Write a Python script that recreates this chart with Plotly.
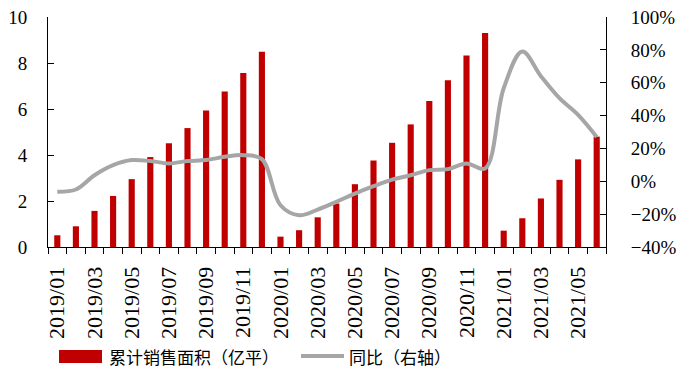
import plotly.graph_objects as go

months = [f"{y}/{m:02d}" for y in (2019, 2020) for m in range(1, 13)] + [f"2021/{m:02d}" for m in range(1, 7)]
sales_area = [0.51, 0.90, 1.57, 2.22, 2.95, 3.91, 4.51, 5.17, 5.94, 6.76, 7.57, 8.49,
              0.45, 0.73, 1.29, 1.89, 2.73, 3.76, 4.53, 5.33, 6.35, 7.25, 8.33, 9.30,
              0.71, 1.25, 2.11, 2.92, 3.81, 4.80]
yoy = [-6.4, -5.0, 3.7, 9.8, 12.9, 12.3, 10.9, 12.3, 12.9, 14.9, 15.9, 13.5,
       -14.6, -20.7, -17.2, -12.5, -7.5, -3.0, 1.0, 3.7, 6.8, 7.4, 10.9, 7.8,
       56.6, 79.0, 64.0, 50.6, 40.4, 27.0]
bar_name = "累计销售面积（亿平）"
line_name = "同比（右轴）"

x = list(range(len(months)))
serif = "Liberation Serif"
cjk = "Noto Sans CJK SC"
red = "#C00000"
gray = "#A6A6A6"

fig = go.Figure()
fig.add_trace(go.Bar(x=x, y=sales_area, name=bar_name, marker_color=red,
                     marker_line_width=0, showlegend=False))
fig.add_trace(go.Scatter(x=x, y=yoy, name=line_name, yaxis="y2", mode="lines",
                         line=dict(color=gray, width=4, shape="spline", smoothing=1.0),
                         showlegend=False))

fig.update_layout(
    template="none",
    width=686, height=370,
    margin=dict(l=40, r=88, t=9, b=131, autoexpand=False),
    paper_bgcolor="white", plot_bgcolor="white",
    bargap=0.67,
    font=dict(family=serif, size=19, color="black"),
    xaxis=dict(range=[-0.5, len(months) - 0.5], tickvals=x[::2], ticktext=months[::2],
               tickangle=-90, ticks="", showline=True, linecolor="black", linewidth=1,
               showgrid=False, zeroline=False, tickfont=dict(family=serif, size=22, color="black"),
               minor=dict(ticks="outside", tick0=0.5, dtick=1, ticklen=6, tickcolor="black", showgrid=False),
               ticklabelstandoff=10, automargin=False, ticklabeloverflow="allow"),
    yaxis=dict(range=[0, 10], dtick=2, ticks="inside", ticklen=6, tickcolor="black",
               showline=True, linecolor="black", linewidth=1, showgrid=False, zeroline=False,
               tickfont=dict(family=serif, size=19, color="black"), ticklabelstandoff=16,
               automargin=False, ticklabeloverflow="allow"),
    yaxis2=dict(range=[-40, 100], dtick=20, ticksuffix="%", overlaying="y", side="right",
                ticks="inside", ticklen=6, tickcolor="black", showline=True, linecolor="black",
                linewidth=1, showgrid=False, zeroline=False,
                tickfont=dict(family=serif, size=19, color="black"), ticklabelstandoff=20,
                automargin=False, ticklabeloverflow="allow"),
    showlegend=False,
)

fig.add_shape(type="rect", xref="paper", yref="paper",
              x0=(59 - 48) / 558, x1=(102 - 48) / 558,
              y0=-(363 - 247) / 230, y1=-(350 - 247) / 230,
              fillcolor=red, line_width=0)
fig.add_annotation(xref="paper", yref="paper", x=(107 - 48) / 558, y=-(356 - 247) / 230,
                   text=bar_name, showarrow=False, xanchor="left", yanchor="middle",
                   font=dict(family=cjk, size=17, color="black"))
fig.add_shape(type="line", xref="paper", yref="paper",
              x0=(301 - 48) / 558, x1=(344 - 48) / 558,
              y0=-(356 - 247) / 230, y1=-(356 - 247) / 230,
              line=dict(color=gray, width=4))
fig.add_annotation(xref="paper", yref="paper", x=(347 - 48) / 558, y=-(356 - 247) / 230,
                   text=line_name, showarrow=False, xanchor="left", yanchor="middle",
                   font=dict(family=cjk, size=17, color="black"))

fig.write_html("out.html")
